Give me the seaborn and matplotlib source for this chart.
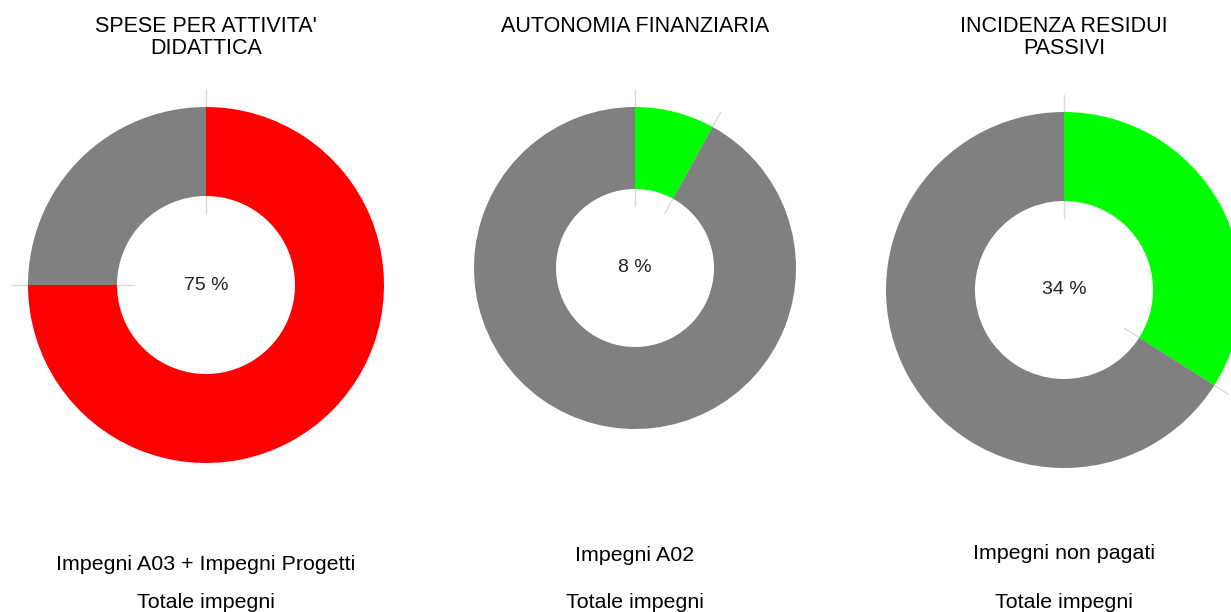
import matplotlib
matplotlib.use("Agg")
import numpy as np
import seaborn as sns
import matplotlib.pyplot as plt

# dati degli indicatori
titles = [["SPESE PER ATTIVITA'", "DIDATTICA"],
          ["AUTONOMIA FINANZIARIA"],
          ["INCIDENZA RESIDUI", "PASSIVI"]]
shares = [75, 8, 34]              # percentuale evidenziata
highlight = ["#ff0000", "#00ff00", "#00ff00"]
numerators = ["Impegni A03 + Impegni Progetti", "Impegni A02", "Impegni non pagati"]
denominators = ["Totale impegni", "Totale impegni", "Totale impegni"]

# layout in pixel (y dall'alto)
W, H = 1231, 612
centers = [(206, 285), (635, 268), (1064, 290)]
outer = [178, 161, 178]
inner = [89, 79, 89]
num_y = [570, 561, 559]
den_y = 608
title_y = [32, 54]

sns.set_style("white")
plt.rcParams['font.family'] = ['Liberation Sans', 'DejaVu Sans']

fig = plt.figure(figsize=(W / 100, H / 100), dpi=100)
ax = fig.add_axes([0, 0, 1, 1])

for i in range(3):
    cx, cy = centers[i]
    R, r = outer[i], inner[i]
    vals = [shares[i], 100 - shares[i]]
    ax.pie(vals, colors=[highlight[i], "#808080"], startangle=90, counterclock=False,
           center=(cx, H - cy), radius=R, frame=True,
           wedgeprops=dict(width=R - r, linewidth=0))

    # linee di separazione (dietro gli spicchi)
    for c in [0, shares[i]]:
        a = np.deg2rad(90 - 360 * c / 100)
        rr = np.array([r - 17, R + 17])
        ax.plot(cx + rr * np.cos(a), H - cy + rr * np.sin(a),
                color="#d9d9d9", lw=1, zorder=0.5)

    ax.text(cx, H - cy, f"{shares[i]} %", ha="center", va="center",
            fontsize=14, color="#222222")

    for j, line in enumerate(titles[i]):
        ax.text(cx, H - title_y[j], line, ha="center", va="baseline",
                fontsize=15.5, color="black")

    ax.text(cx, H - num_y[i], numerators[i], ha="center", va="baseline",
            fontsize=15.4, color="black")
    ax.text(cx, H - den_y, denominators[i], ha="center", va="baseline",
            fontsize=15.4, color="black")

ax.set_xlim(0, W)
ax.set_ylim(0, H)
ax.set_aspect("equal")
ax.axis("off")

fig.savefig("out.png", dpi=100)
